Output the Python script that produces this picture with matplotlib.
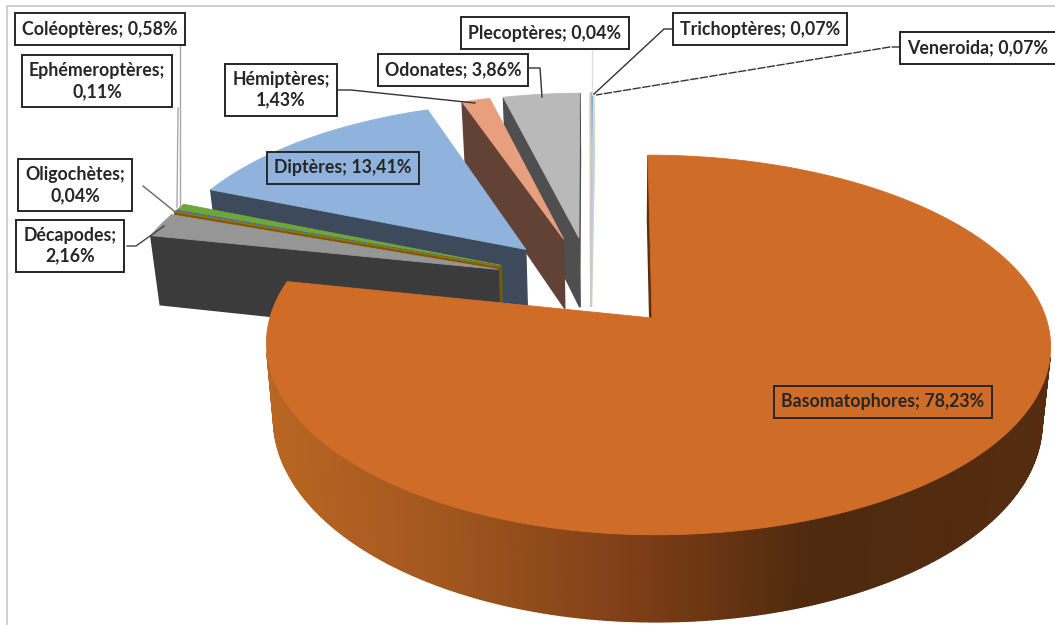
import numpy as np
import matplotlib
matplotlib.use("Agg")
import matplotlib.pyplot as plt
from matplotlib.colors import to_rgb

# slices in pie order, clockwise from 12 o'clock
names = ["Basomatophores", "Décapodes", "Oligochètes", "Ephémeroptères", "Coléoptères", "Diptères",
         "Hémiptères", "Odonates", "Plecoptères", "Trichoptères", "Veneroida"]
values = [78.23, 2.16, 0.04, 0.11, 0.58, 13.41, 1.43, 3.86, 0.04, 0.07, 0.07]
top_colors = ["#cf6d28", "#969696", "#a0700f", "#3f78b8", "#6ea63c", "#8fb3dc",
              "#e89f7e", "#b9b9b9", "#d5d0c0", "#5b93d3", "#e5dcc0"]
wall_colors = ["#5c2f10", "#3b3b3b", "#7d5a08", "#2d4f78", "#3f6622", "#3c4a5c",
               "#614234", "#4f4f4f", "#cfcabb", "#b9cfe6", "#d8d2bc"]
two_lines = [False, True, True, True, False, False, True, False, False, False, False]

# camera of the 3D pie, in pixels
cx, cy = 652, 318
rx, ry = 394, 186
left_squeeze = 0.97
persp = 0.142
lean = 4
explode = 0.26


def proj(x, y, down=False):
    w = 1 / (1 + persp * y)
    sx = cx + rx * x * w * np.where(x < 0, left_squeeze, 1) - lean * y
    sy = cy - ry * y * w
    if down:
        sx = 620 + (sx - 620) * 0.98
        sy = sy + 55 + 0.06 * sy
    return sx, sy


def unit(a):
    # a is degrees clockwise from the top
    t = np.radians(90 - a)
    return np.cos(t), np.sin(t)


fig = plt.figure(figsize=(10.55, 6.25), dpi=100)
ax = fig.add_axes([0, 0, 1, 1])
ax.set_xlim(0, 1055)
ax.set_ylim(625, 0)
ax.axis("off")

ax.plot([7, 7, 1055], [625, 6, 6], color="#c8c8c8", lw=1.2)

edges = np.concatenate([[0], np.cumsum(values)]) * 3.6
main_dir = unit(edges[1] / 2)
center = (-explode * main_dir[0], -explode * main_dir[1])

# rim of the big slice gets darker to the right
rim_x = [260, 450, 650, 810, 1050]
rim_c = np.array([to_rgb(c) for c in ["#bb6722", "#a1561f", "#7a3c16", "#4f2a0e", "#552c10"]])


def rim_color(x):
    return [np.interp(x, rim_x, rim_c[:, k]) for k in range(3)]


def draw_slice(i, zorder):
    a0, a1 = edges[i], edges[i + 1]
    d = unit((a0 + a1) / 2)
    ax0 = center[0] + explode * d[0]
    ay0 = center[1] + explode * d[1]
    n = max(2, int((a1 - a0) * 2))
    arc = np.linspace(a0, a1, n)
    px = [ax0] + [ax0 + unit(a)[0] for a in arc]
    py = [ay0] + [ay0 + unit(a)[1] for a in arc]
    tx, ty = proj(np.array(px), np.array(py))
    bx, by = proj(np.array(px), np.array(py), down=True)
    m = len(px)
    faces = []
    for j in range(m):
        k = (j + 1) % m
        fx = [tx[j], tx[k], bx[k], bx[j]]
        fy = [ty[j], ty[k], by[k], by[j]]
        area = sum(fx[q] * fy[(q + 1) % 4] - fx[(q + 1) % 4] * fy[q] for q in range(4))
        if area < 0:
            radial = j == 0 or k == 0
            faces.append((radial, fx, fy))
    # radial walls first, then rim
    for radial, fx, fy in sorted(faces, key=lambda f: not f[0]):
        c = wall_colors[i]
        if i == 0 and not radial:
            c = rim_color(np.mean(fx))
        ax.fill(fx, fy, color=c, lw=1.0, zorder=zorder)
    ax.fill(tx, ty, color=top_colors[i], lw=0.6, zorder=zorder + 0.5)


order = [10, 9, 8, 7, 6, 5, 4, 3, 2, 1, 0]
for z, i in enumerate(order):
    draw_slice(i, 2 + z)

# leader lines
leaders = {
    "Coléoptères": ([180, 180], [43, 207], "#a8a8a8", "-"),
    "Ephémeroptères": ([178, 177], [108, 207], "#a8a8a8", "-"),
    "Hémiptères": ([337, 351, 475], [90, 90, 103], "#333333", "-"),
    "Oligochètes": ([143, 174], [186, 211], "#666666", "-"),
    "Décapodes": ([127, 136, 164], [246, 246, 226], "#444444", "-"),
    "Odonates": ([529, 540, 542], [68, 68, 97], "#333333", "-"),
    "Plecoptères": ([592, 592], [47, 95], "#dddddd", "-"),
    "Trichoptères": ([672, 664, 594], [29, 29, 94], "#333333", "-"),
    "Veneroida": ([900, 890, 596], [47, 47, 95], "#333333", (0, (6, 1))),
}
for nm, (lx, ly, c, ls) in leaders.items():
    ax.plot(lx, ly, color=c, lw=1, ls=ls, zorder=20)

# label box centres
label_pos = {
    "Basomatophores": (883, 402), "Décapodes": (70, 246), "Oligochètes": (75, 185),
    "Ephémeroptères": (97, 81), "Coléoptères": (100, 29), "Diptères": (343, 168),
    "Hémiptères": (281, 90), "Odonates": (453, 70), "Plecoptères": (545, 33),
    "Trichoptères": (760, 29), "Veneroida": (978, 48),
}
for i, nm in enumerate(names):
    sep = ";\n" if two_lines[i] else "; "
    txt = f"{nm}{sep}{values[i]:.2f}%".replace(".", ",")
    fc = "white"
    if nm in ("Basomatophores", "Diptères"):
        fc = top_colors[i]
    ax.text(label_pos[nm][0], label_pos[nm][1], txt, ha="center", va="center", ma="center",
            family="Lato", fontweight="bold", fontsize=12.8, color="#262626", linespacing=1.25, zorder=30,
            bbox=dict(boxstyle="square,pad=0.4", fc=fc, ec="#262626", lw=1.4))

fig.savefig("out.png", dpi=100)
